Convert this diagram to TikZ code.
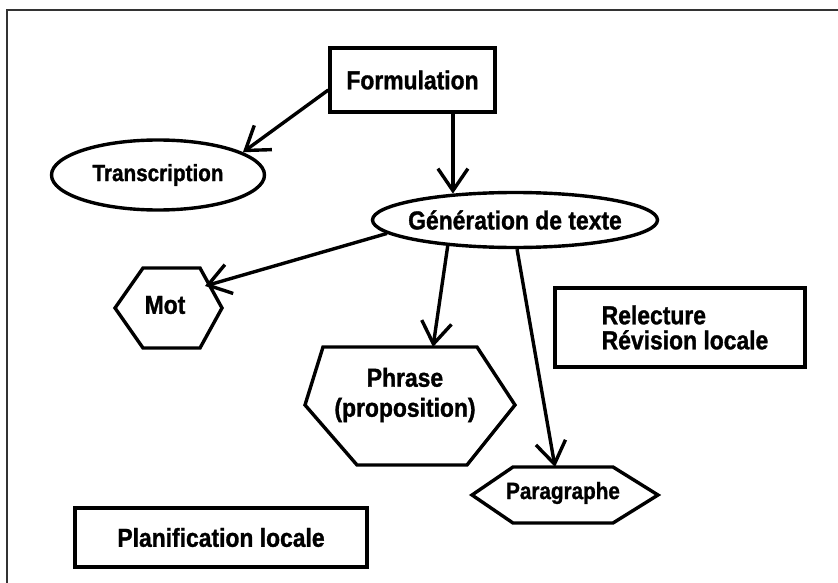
\documentclass[tikz,border=0pt]{standalone}
\usepackage{fontspec}
\newfontfamily\diagfont{Liberation Sans}[FakeStretch=0.88, BoldFeatures={FakeBold=1.2}]
\usetikzlibrary{arrows.meta,calc,shapes.geometric}

\begin{document}
\begin{tikzpicture}[x=1pt,y=-1pt,
  lbl/.style={inner sep=0pt, font=\diagfont\bfseries\fontsize{26}{26}\selectfont},
  small/.style={font=\diagfont\bfseries\fontsize{23.5}{26}\selectfont},
  boxnode/.style={lbl, draw, line width=3.4pt, rectangle},
  ellnode/.style={lbl, draw, line width=3.4pt, ellipse},
  hexline/.style={line width=3.4pt, line join=miter},
  arr/.style={line width=3.4pt, -{Straight Barb[length=22pt,width=30pt]}},
  frameline/.style={line width=2.5pt, draw=black!80}]
\useasboundingbox (0,0) rectangle (838,583);

% page frame
\draw[frameline] (840,10) -- (7,10) -- (7,585);

% boxes
\node[boxnode, minimum width=165pt, minimum height=64pt] (form) at (412.5,80) {Formulation};
\node[boxnode, minimum width=250pt, minimum height=79pt, align=left,
      font=\diagfont\bfseries\fontsize{26}{25}\selectfont] (rel) at (680,327.5)
      {\hspace*{10pt}Relecture\\\hspace*{10pt}Révision locale};
\node[boxnode, minimum width=292pt, minimum height=59pt] (plan) at (221,537.5) {Planification locale};

% ellipses
\node[ellnode, minimum width=213pt, minimum height=70pt, small] (trans) at (158,175)
      {\makebox[0pt]{Transcription}};
\node[ellnode, minimum width=285pt, minimum height=55pt] (gen) at (515,220)
      {\makebox[0pt]{Génération de texte}};

% hexagons: label node, outline drawn round it
\node[lbl] (mot) at (165,305) {Mot};
\draw[hexline] ($(mot)+(-50,3)$) -- ($(mot)+(-22,-37)$) -- ($(mot)+(35,-37)$)
  -- ($(mot)+(57,3)$) -- ($(mot)+(35,43)$) -- ($(mot)+(-22,43)$) -- cycle;

\node[lbl, align=center, font=\diagfont\bfseries\fontsize{26}{30}\selectfont] (phr) at (405,395)
      {Phrase\\(proposition)};
\draw[hexline] ($(phr)+(-100,10)$) -- ($(phr)+(-82,-48)$) -- ($(phr)+(72,-48)$)
  -- ($(phr)+(110,10)$) -- ($(phr)+(62,70)$) -- ($(phr)+(-48,70)$) -- cycle;

\node[lbl, small] (para) at (563,493) {Paragraphe};
\draw[hexline] ($(para)+(-91,2)$) -- ($(para)+(-50,-26)$) -- ($(para)+(50,-26)$)
  -- ($(para)+(95,2)$) -- ($(para)+(50,30)$) -- ($(para)+(-50,30)$) -- cycle;

% connectors
\draw[arr] ([yshift=-10pt]form.west) -- (trans.15);
\draw[arr] (form.south -| gen.157) -- (gen.157);
\draw[arr] (gen.186) -- ($(mot)+(40,-19)$);
\draw[arr] (gen.201) -- ($(phr)+(28,-48)$);
\draw[arr] (gen.274) -- ($(para)+(-8,-26)$);
\end{tikzpicture}
\end{document}
